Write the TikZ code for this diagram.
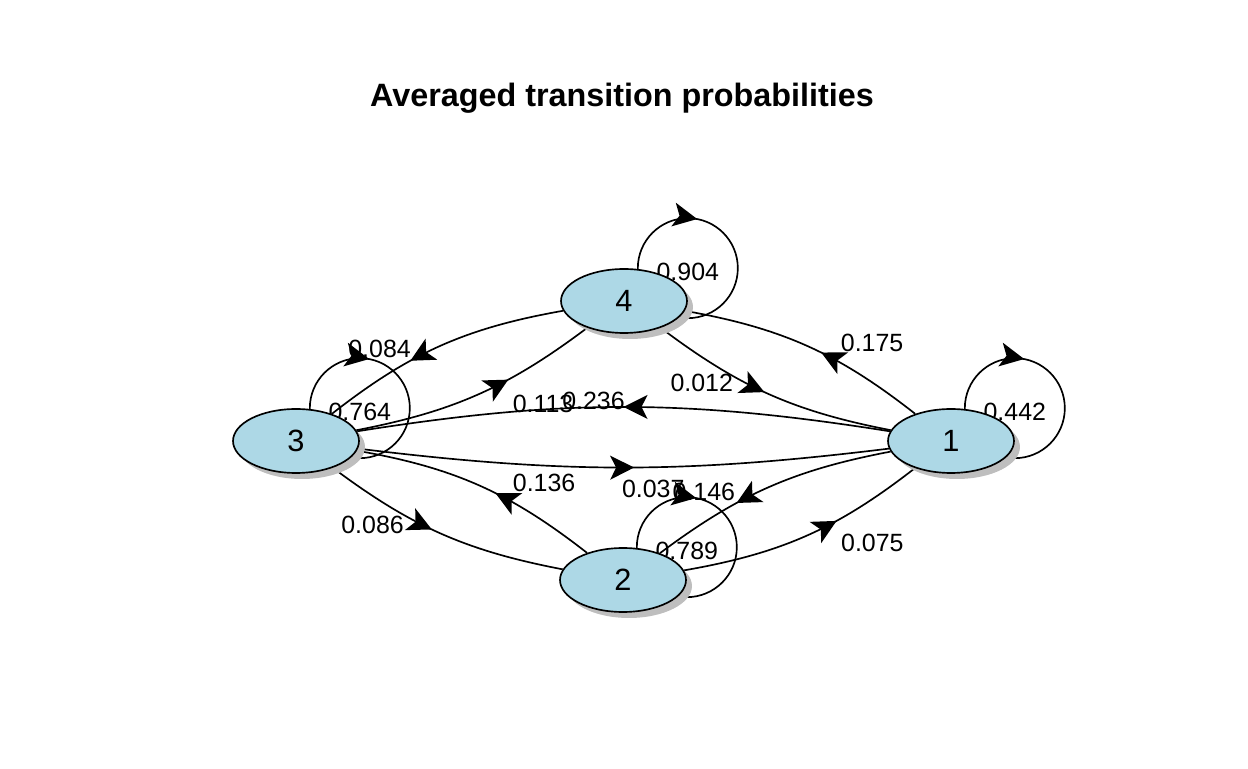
\documentclass[tikz,border=0pt]{standalone}
\usepackage{fontspec}
\setmainfont{Liberation Sans}
\usepackage{tikz}
\usetikzlibrary{arrows.meta,decorations.markings,shapes.geometric,shadows,backgrounds}
\definecolor{stateblue}{RGB}{173,216,230}
\definecolor{shadowgrey}{RGB}{190,190,190}
\tikzset{midtip/.style={postaction={decorate},
  decoration={markings,
    mark=at position #1 with {\arrow{Stealth[length=0.48cm,width=0.48cm,inset=0.12cm]}}}}}

\begin{document}
\begin{tikzpicture}[x=0.02cm,y=0.02cm,line width=0.95pt,
  state/.style={ellipse,draw,fill=stateblue,inner sep=0pt,
    minimum width=2.52cm,minimum height=1.28cm,
    drop shadow={shadow xshift=0.12cm,shadow yshift=-0.12cm,fill=shadowgrey,opacity=1},
    font=\fontsize{17.5}{20}\selectfont},
  prob/.style={inner sep=0pt,font=\fontsize{14.2}{17}\selectfont}]
  \useasboundingbox (0,0) rectangle (1248,768);
  \node[font=\bfseries\fontsize{18.4}{22}\selectfont] (title) at (622,670) {Averaged transition probabilities};
  \node[state] (n3) at (296,327) {3};
  \node[state] (n4) at (624,467) {4};
  \node[state] (n1) at (951,327) {1};
  \node[state] (n2) at (623,188) {2};
  \begin{scope}[on background layer]
  \begin{scope}[line width=0.95pt]
    % between states
    \draw[midtip=0.63] (n4) to[bend right=14] node[prob,pos=0.63,shift={(-33,11)}] (p43) {0.084} (n3);
    \draw[midtip=0.63] (n3) to[bend right=13] node[prob,pos=0.63,shift={(37,-23)}] (p34) {0.113} (n4);
    \draw[midtip=0.5] (n1) to[bend right=9] node[prob,pos=0.5,shift={(-30,6)}] (p13) {0.236} (n3);
    \draw[midtip=0.52] (n3) to[bend right=7] node[prob,pos=0.52,shift={(20,-21)}] (p31) {0.037} (n1);
    \draw[midtip=0.48] (n4) to[bend right=13] node[prob,pos=0.48,shift={(-63,9)}] (p41) {0.012} (n1);
    \draw[midtip=0.44] (n1) to[bend right=14] node[prob,pos=0.44,shift={(52,9)}] (p14) {0.175} (n4);
    \draw[midtip=0.64] (n1) to[bend right=13] node[prob,pos=0.64,shift={(-35,10)}] (p12) {0.146} (n2);
    \draw[midtip=0.63] (n2) to[bend right=14] node[prob,pos=0.63,shift={(38,-21)}] (p21) {0.075} (n1);
    \draw[midtip=0.43] (n2) to[bend right=14] node[prob,pos=0.43,shift={(50,10)}] (p23) {0.136} (n3);
    \draw[midtip=0.46] (n3) to[bend right=13] node[prob,pos=0.46,shift={(-60,5)}] (p32) {0.086} (n2);
    % self loops
    \foreach \s/\p in {3/0.764,4/0.904,1/0.442,2/0.789}{
      \coordinate (c\s) at (n\s.east |- n\s.north);
      \draw[midtip=0.28] (c\s) ++(180:50) arc[start angle=180,end angle=-180,radius=50];
      \node[prob] (p\s\s) at ([yshift=-2]c\s) {\p};
    }
  \end{scope}
  \end{scope}
\end{tikzpicture}
\end{document}
